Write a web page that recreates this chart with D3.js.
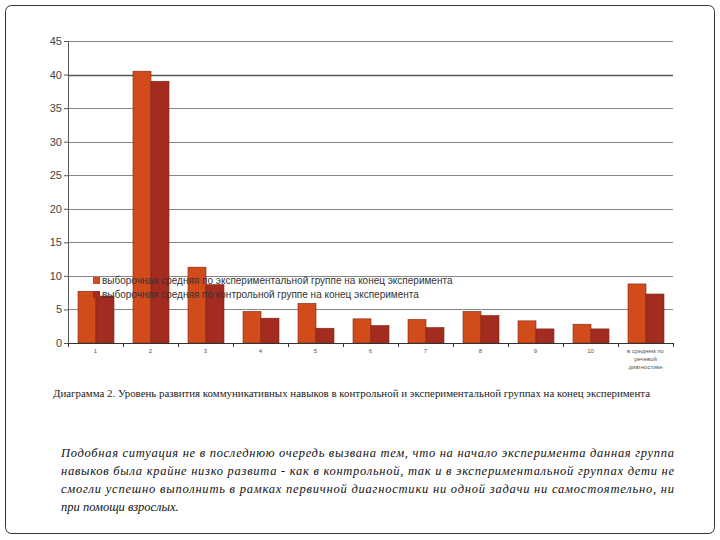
<!DOCTYPE html>
<html><head><meta charset="utf-8">
<script src="https://cdn.jsdelivr.net/npm/d3@7"></script>
<style>
body{margin:0;background:#fff;}
svg{display:block;}
</style></head>
<body>
<svg id="c" width="720" height="540"></svg>
<script>
const categories = ["1","2","3","4","5","6","7","8","9","10","в среднем по|речевой|диагностике"];
const seriesNames = ["выборочная средняя по экспериментальной группе на конец эксперимента",
                     "выборочная средняя по контрольной группе на конец эксперимента"];
const expValues = [7.7, 40.5, 11.3, 4.7, 5.9, 3.6, 3.5, 4.7, 3.3, 2.8, 8.8];
const ctrlValues = [7.0, 39.0, 8.7, 3.7, 2.2, 2.6, 2.3, 4.1, 2.1, 2.1, 7.3];
const yTicks = [0,5,10,15,20,25,30,35,40,45];
const caption = "Диаграмма 2. Уровень развития коммуникативных навыков в контрольной и экспериментальной группах на конец эксперимента";
const paragraph = ["Подобная ситуация не в последнюю очередь вызвана тем, что на начало эксперимента данная группа",
  "навыков была крайне низко развита - как в контрольной, так и в экспериментальной группах дети не",
  "смогли успешно выполнить в рамках первичной диагностики ни одной задачи ни самостоятельно, ни",
  "при помощи взрослых."];
const colors = ["#d24b1b", "#a32b1f"];

const svg = d3.select("#c");
svg.append("rect").attr("x",5.5).attr("y",5.5).attr("width",709).attr("height",528)
  .attr("rx",6).attr("fill","#fff").attr("stroke","#333").attr("stroke-width",1);

const pL=68, pR=673, pT=41, pB=343;
const x = d3.scaleBand().domain(categories).range([pL,pR]).paddingInner(0).paddingOuter(0);
const x1 = d3.scaleBand().domain([0,1]).range([10, x.bandwidth()-9]).padding(0);
const y = d3.scaleLinear().domain([0,45]).range([pB,pT]);

// gridlines
svg.append("g").selectAll("line").data(yTicks.filter(d=>d>0)).join("line")
  .attr("x1",pL).attr("x2",pR).attr("y1",d=>Math.round(y(d))+0.5).attr("y2",d=>Math.round(y(d))+0.5)
  .attr("stroke",d=>d===40?"#555":"#888").attr("stroke-width",d=>d===40?1.6:1);

// bars
const data = categories.map((c,i)=>({c, v:[expValues[i], ctrlValues[i]]}));
const g = svg.append("g").selectAll("g").data(data).join("g").attr("transform",d=>`translate(${x(d.c)},0)`);
g.selectAll("rect").data(d=>d.v.map((v,k)=>({v,k}))).join("rect")
  .attr("x",d=>x1(d.k)).attr("width",x1.bandwidth())
  .attr("y",d=>y(d.v)).attr("height",d=>y(0)-y(d.v))
  .attr("fill",d=>colors[d.k]).attr("stroke","#7a2a15").attr("stroke-width",0.6);

// y axis
const ya = svg.append("g").attr("transform",`translate(${pL},0)`)
  .call(d3.axisLeft(y).tickValues(yTicks).tickSize(4).tickFormat(d3.format("d")));
ya.select(".domain").attr("stroke","#555");
ya.selectAll(".tick line").attr("stroke","#555");
ya.selectAll("text").attr("font-family","Liberation Sans, Arial, sans-serif").attr("font-size",11).attr("fill","#444").attr("x",-6);

// x axis
svg.append("line").attr("x1",pL).attr("x2",pR).attr("y1",pB+0.5).attr("y2",pB+0.5).attr("stroke","#333").attr("stroke-width",1.2);
const bounds = categories.map(c=>x(c)).concat([pR]);
svg.append("g").selectAll("line").data(bounds).join("line")
  .attr("x1",d=>d+0.5).attr("x2",d=>d+0.5).attr("y1",pB).attr("y2",pB+4).attr("stroke","#333");
const xl = svg.append("g").selectAll("text").data(categories).join("text")
  .attr("x",d=>x(d)+x.bandwidth()/2).attr("y",pB+10)
  .attr("text-anchor","middle").attr("font-family","Liberation Sans, Arial, sans-serif")
  .attr("font-size",6).attr("fill","#555");
xl.each(function(d){
  const parts=d.split("|");
  d3.select(this).selectAll("tspan").data(parts).join("tspan")
    .attr("x",x(d)+x.bandwidth()/2).attr("dy",(p,i)=>i===0?0:8).text(p=>p);
});

// legend
const lg = svg.append("g").attr("transform","translate(93,277)");
seriesNames.forEach((s,i)=>{
  lg.append("rect").attr("x",0).attr("y",i*14).attr("width",7).attr("height",7).attr("fill",colors[i]);
  lg.append("text").attr("x",9).attr("y",i*14+7).text(s)
    .attr("font-family","Liberation Sans, Arial, sans-serif").attr("font-size",10).attr("fill","#333");
});

// caption
svg.append("text").attr("x",53).attr("y",397).text(caption)
  .attr("font-family","Liberation Serif, Times New Roman, serif").attr("font-size",10.6).attr("fill","#222")
  .attr("textLength",597).attr("lengthAdjust","spacingAndGlyphs");

// paragraph
svg.append("g").selectAll("text").data(paragraph).join("text")
  .attr("x",61).attr("y",(d,i)=>457+i*18).text(d=>d)
  .attr("font-family","Liberation Serif, Times New Roman, serif").attr("font-style","italic")
  .attr("font-size",12.5).attr("fill","#111")
  .each(function(d,i){ if(i<3) d3.select(this).attr("textLength",613).attr("lengthAdjust","spacing"); });
</script>
</body></html>
